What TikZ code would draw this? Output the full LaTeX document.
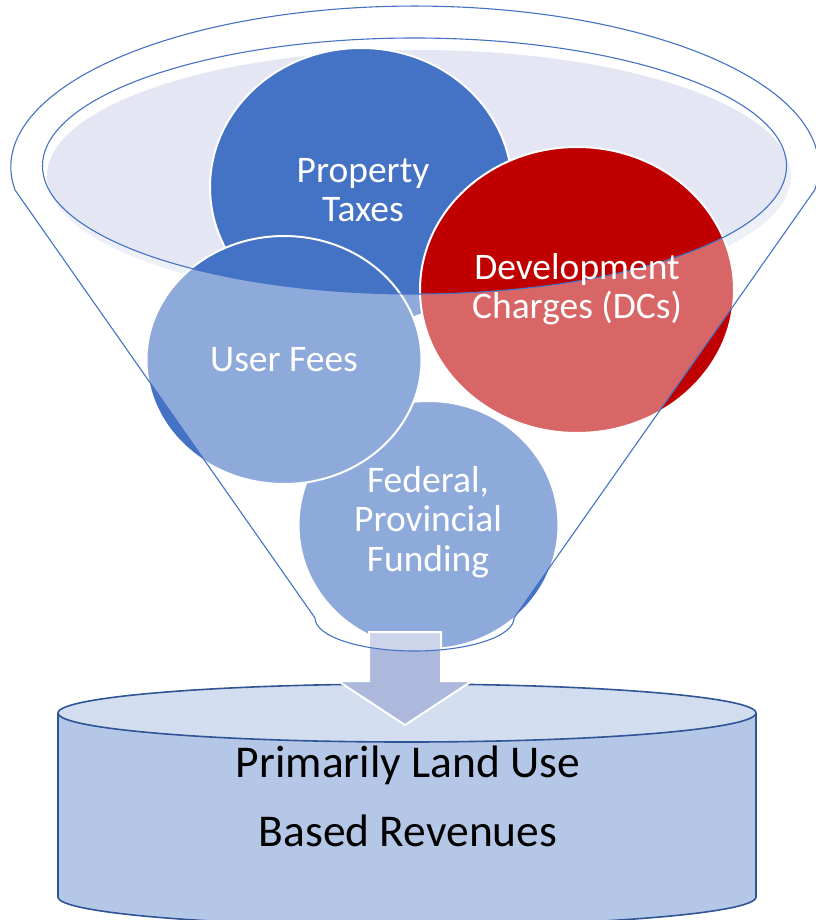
\documentclass[tikz,border=0pt]{standalone}
\usepackage{fontspec}
\setmainfont{Carlito}
\usetikzlibrary{shapes,arrows,positioning,calc}
\definecolor{funnelblue}{HTML}{4472C4}
\definecolor{taxblue}{HTML}{4472C4}
\definecolor{dcred}{HTML}{C00000}
\definecolor{rimfill}{HTML}{E4E7F3}
\definecolor{flowfill}{HTML}{ADB9DC}
\definecolor{drumtop}{HTML}{D2DDF0}
\definecolor{drumbody}{HTML}{B4C7E7}
\definecolor{drumline}{HTML}{2F5597}

\begin{document}
\begin{tikzpicture}[x=1pt,y=1pt,
    bubble/.style={ellipse, fill=#1, draw=white, line width=2pt, inner sep=0pt},
    bubblelabel/.style={text=white, align=center, font=\fontsize{37.5}{39.5}\selectfont},
    drumlabel/.style={text=black, anchor=base, font=\fontsize{45.5}{50}\selectfont},
    funnelline/.style={draw=funnelblue, line width=1.1pt},
    flowarrow/.style={fill=flowfill, draw=white, line width=2pt, line join=miter}]
    \useasboundingbox (0,0) rectangle (815,-920);
    %Definitions - sizes of the funnel in picture units%
    %===========================================================
    \def \Rx {404}; %outer rim, x radius
    \def \Ry {161}; %outer rim, y radius
    \def \Mx {372}; %mouth, x radius
    \def \My {128}; %mouth, y radius
    \coordinate (rim) at (414.5,-167); %Centre of outer rim
    \coordinate (mouth) at (414.5,-166); %Centre of mouth
    \coordinate (drum) at (407,-713); %Centre of drum lid

    %=============================================================================================================
    %Drum at the bottom
    %=============================================================================================================
    \fill[drumbody] (58,-713) -- (58,-897) arc[start angle=180, end angle=360, x radius=349, y radius=29] -- (756,-713) -- cycle;
    \draw[drumline, line width=1.6pt] (58,-713) -- (58,-897) arc[start angle=180, end angle=360, x radius=349, y radius=29] -- (756,-713);
    \filldraw[fill=drumtop, draw=drumline, line width=1.6pt] (drum) ellipse [x radius=349, y radius=29];

    %Inside of the mouth
    \fill[rimfill] (419,-176) ellipse [x radius=\Mx, y radius=126];

    %Bubbles, back to front
    \node[bubble=taxblue, minimum width=302pt, minimum height=278pt] (taxes) at (361,-187) {};
    \node[bubble=dcred, minimum width=314pt, minimum height=286pt] (charges) at (577,-290) {};
    \node[bubble=taxblue, minimum width=260pt, minimum height=248pt] (grants) at (428.5,-525) {};
    \node[bubble=taxblue, minimum width=275pt, minimum height=248pt] (fees) at (284,-360) {};

    %Arrow into the drum
    \draw[flowarrow] (369,-632) -- (441,-632) -- (441,-681) -- (472,-681) -- (405,-725) -- (338,-681) -- (369,-681) -- cycle;

    %=============================================================================================================
    %Funnel front face (pale glass) and outlines
    %=============================================================================================================
    \fill[white, fill opacity=0.4, even odd rule] (15,-190) arc[start angle=188.2, end angle=-8.2, x radius=\Rx, y radius=\Ry] -- (514,-618) arc[start angle=0, end angle=-180, x radius=99.5, y radius=33] -- cycle (mouth) ellipse [x radius=\Mx, y radius=\My];
    \draw[funnelline] (15,-190) arc[start angle=188.2, end angle=-8.2, x radius=\Rx, y radius=\Ry] -- (514,-618) arc[start angle=0, end angle=-180, x radius=99.5, y radius=33] -- cycle;
    \draw[funnelline] (mouth) ellipse [x radius=\Mx, y radius=\My];

    %Texts
    \node[bubblelabel] (taxeslabel) at (363,-190) {Property\\Taxes};
    \node[bubblelabel] (chargeslabel) at (577,-289) {Development\\Charges (DCs)};
    \node[bubblelabel] (feeslabel) at (284,-360) {User Fees};
    \node[bubblelabel] (grantslabel) at (428,-522) {Federal,\\Provincial\\Funding};
    \node[drumlabel] (landuse) at (408,-777) {Primarily Land Use};
    \node[drumlabel] (basedrev) at (408,-846) {Based Revenues};
\end{tikzpicture}
\end{document}
